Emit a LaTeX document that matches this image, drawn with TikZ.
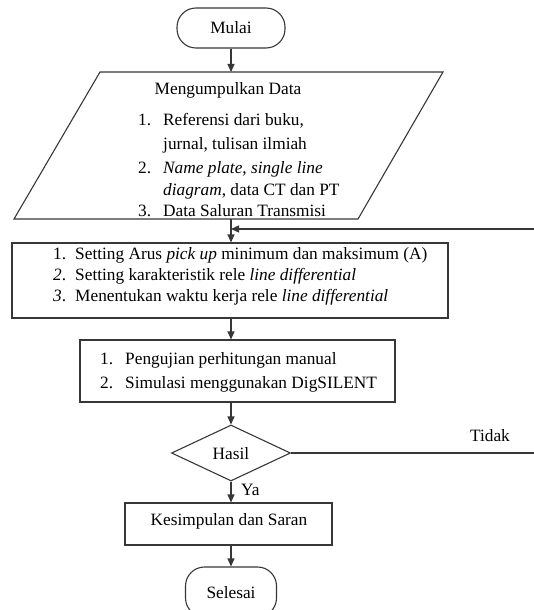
\documentclass[tikz,border=0pt]{standalone}
\usepackage{fontspec}
\setmainfont{Liberation Serif}
\usetikzlibrary{arrows.meta,shapes.geometric}
\definecolor{lc}{RGB}{55,55,55}
\newcommand\myfs{\fontsize{17.3}{20}\selectfont}
\begin{document}
\begin{tikzpicture}[x=1pt,y=-1pt,
  line/.style={draw=lc, line width=1.1pt},
  arr/.style={line, -{Triangle[length=8pt,width=7pt]}},
  box/.style={draw=lc, line width=1.1pt, rectangle, inner sep=0pt, font=\myfs},
  txt/.style={inner sep=0pt, font=\myfs},
  ct/.style={txt, anchor=base},
  lt/.style={txt, anchor=base west}
]
\clip (0,0) rectangle (534,610);
\coordinate (ax) at (231,0);
% Mulai
\node[box, rounded corners=19pt, minimum width=108pt, minimum height=40pt] (mulai) at (231,28) {Mulai};
% data parallelogram
\draw[line] (100,72) -- (443,72) -- (358,219) -- (14,219) -- cycle;
\coordinate (dtop) at (231,72);
\coordinate (dbot) at (231,219);
\node[ct] (dtitle) at (228,94) {Mengumpulkan Data};
\node[lt] (d1n) at (138,125) {1.};
\node[lt] (d1a) at (163,125) {Referensi dari buku,};
\node[lt] (d1b) at (163,149) {jurnal, tulisan ilmiah};
\node[lt] (d2n) at (138,173) {2.};
\node[lt] (d2a) at (163,173) {\textit{Name plate}, \textit{single line}};
\node[lt] (d2b) at (163,195) {\textit{diagram}, data CT dan PT};
\node[lt] (d3n) at (138,216) {3.};
\node[lt] (d3a) at (163,216) {Data Saluran Transmisi};
% box 1
\node[box, minimum width=436pt, minimum height=75pt] (b1) at (230,280.5) {};
\node[lt] (b1n1) at (53,259) {1.};
\node[lt] (b1t1) at (75,259) {Setting Arus \textit{pick up} minimum dan maksimum (A)};
\node[lt] (b1n2) at (53,280) {\textit{2}.};
\node[lt] (b1t2) at (75,280) {Setting karakteristik rele \textit{line differential}};
\node[lt] (b1n3) at (53,301) {\textit{3}.};
\node[lt] (b1t3) at (75,301) {Menentukan waktu kerja rele \textit{line differential}};
% box 2
\node[box, minimum width=315pt, minimum height=62pt] (b2) at (237.5,371) {};
\node[lt] (b2n1) at (100,364) {1.};
\node[lt] (b2t1) at (125,364) {Pengujian perhitungan manual};
\node[lt] (b2n2) at (100,388) {2.};
\node[lt] (b2t2) at (125,388) {Simulasi menggunakan DigSILENT};
% decision
\node[box, diamond, aspect=2.1, minimum width=119pt, minimum height=56pt] (hasil) at (231,453) {};
\node[ct] (hasilt) at (231,459) {Hasil};
\node[ct] (tidak) at (490,441) {Tidak};
\node[lt] (ya) at (241,495) {Ya};
% box 3
\node[box, minimum width=207pt, minimum height=42pt] (b3) at (228.5,524) {};
\node[ct] (b3t) at (229,525) {Kesimpulan dan Saran};
% Selesai
\node[box, rounded corners=19pt, minimum width=91pt, minimum height=50pt] (selesai) at (231,592) {};
\node[ct] (selesait) at (231,598) {Selesai};
% connectors
\coordinate (fbR) at (534,229);
\coordinate (fbL) at (231,229);
\coordinate (tdR) at (534,453);
\draw[arr] (mulai) -- (dtop);
\draw[arr] (dbot) -- (ax |- b1.north);
\draw[arr] (fbR) -- (fbL);
\draw[arr] (ax |- b1.south) -- (ax |- b2.north);
\draw[arr] (ax |- b2.south) -- (hasil.north);
\draw[line] (hasil.east) -- (tdR);
\draw[arr] (hasil.south) -- (ax |- b3.north);
\draw[arr] (ax |- b3.south) -- (selesai.north);
\end{tikzpicture}
\end{document}
